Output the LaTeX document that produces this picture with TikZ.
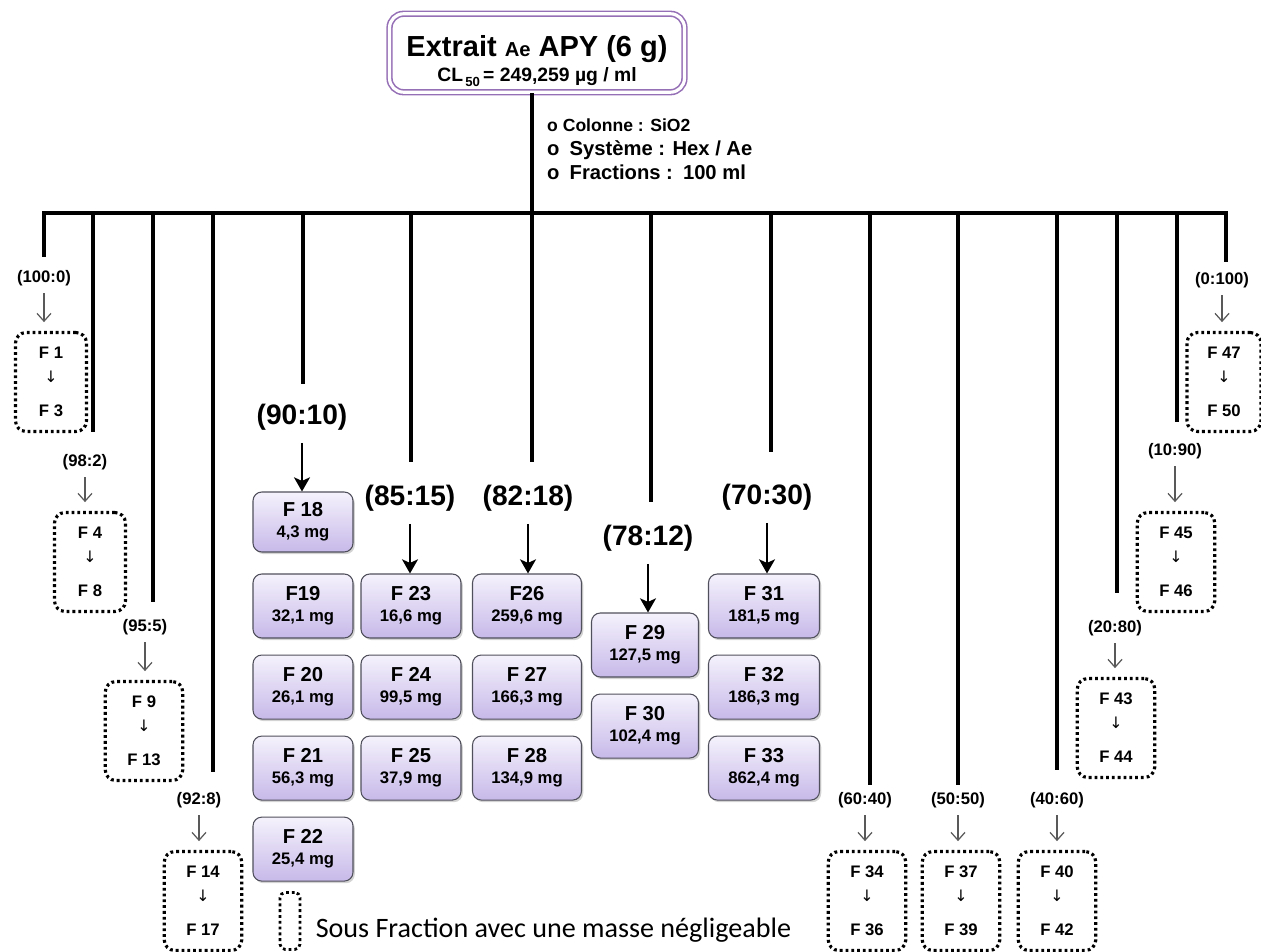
\documentclass[tikz,border=0pt]{standalone}
\usepackage{fontspec}
\setmainfont{Liberation Sans}
\newfontfamily\symfont{DejaVu Sans}
\newfontfamily\legendfont{Carlito}
\usepackage{tikz}
\usetikzlibrary{positioning, shadows, arrows.meta, calc}

\definecolor{fracTop}{RGB}{245,242,252}
\definecolor{fracBot}{RGB}{199,185,233}
\definecolor{fracLine}{RGB}{80,80,92}
\definecolor{extrLine}{RGB}{150,112,182}

\newcommand{\fleche}{{\symfont\mdseries\fontsize{9}{9}\selectfont ↓}}
\newcommand{\sousfrac}[2]{#1\\[2pt]\fleche\\[8pt]#2}
\newcommand{\fracmasse}[2]{#1\\[-1pt]{\bfseries\fontsize{9.5}{11}\selectfont #2 mg}}

\begin{document}
\begin{tikzpicture}[x=0.02cm, y=-0.02cm,
    branch/.style={line width=2.2pt},
    bigratio/.style={font=\bfseries\fontsize{16}{19}\selectfont, inner sep=1pt},
    smallratio/.style={font=\bfseries\fontsize{9.5}{11}\selectfont, inner sep=1pt},
    extrbox/.style={
        rectangle, rounded corners=8pt, draw=extrLine, line width=0.9pt,
        double=white, double distance=1.8pt, fill=white,
        minimum width=5.9cm, minimum height=1.55cm, align=center,
        font=\bfseries
    },
    fracbox/.style={
        rectangle, rounded corners=5pt, draw=fracLine, line width=0.6pt,
        top color=fracTop, bottom color=fracBot,
        minimum width=2cm, minimum height=1.28cm, align=center, inner sep=1pt,
        font=\bfseries\fontsize{11.5}{13}\selectfont,
        drop shadow={opacity=0.35, shadow xshift=1pt, shadow yshift=-1.2pt}
    },
    sousbox/.style={
        rectangle, rounded corners=6pt, draw, line width=1.8pt,
        dash pattern=on 1.6pt off 1.7pt,
        minimum width=1.55cm, minimum height=1.98cm, align=center, inner sep=0pt,
        font=\bfseries\fontsize{9.5}{11.5}\selectfont
    },
    bigarrow/.style={line width=1.6pt, -{Stealth[length=8pt, width=9pt, inset=2pt]}},
    smallarrow/.style={line width=0.7pt, draw=black!65, -{Straight Barb[length=4.5pt, width=8pt]},
        shorten <=3pt, shorten >=5pt}
]
\useasboundingbox (0,0) rectangle (1261,952);

% extrait de depart
\node[extrbox] (extrait) at (537,53) {
    {\fontsize{16.5}{19}\selectfont\rule{0pt}{21pt}Extrait {\fontsize{11.5}{14}\selectfont Ae} APY (6 g)}\\[2pt]
    {\fontsize{11}{13}\selectfont CL\raisebox{-0.5ex}{\fontsize{7.5}{8}\selectfont\,50}\,= 249,259 µg / ml}
};
\node[anchor=west, align=left, font=\bfseries\fontsize{11.5}{13.6}\selectfont] (methode) at (541,149) {
    {\fontsize{10}{13.6}\selectfont o Colonne : SiO2}\\
    o\enspace Système : Hex / Ae\\
    o\enspace Fractions :\enspace 100 ml
};

\coordinate (b0) at (532,213);
\draw[branch] (b0 |- extrait.south) -- (b0);

% barre de colonne
\coordinate (bl) at (44,213);
\coordinate (br) at (1226,213);
\coordinate (el) at (44,257);
\coordinate (er) at (1226,262);
\draw[branch] (el) -- (bl) -- (br) -- (er);

\foreach \n/\x/\y in {2/93/432, 3/153/602, 4/213/772, 5/303/384, 6/411/462,
    7/532/462, 8/651/502, 9/771/452, 10/870/785, 11/958/785, 12/1057/770,
    13/1117/593, 14/1177/422}{
    \coordinate (top\n) at (\x,213);
    \coordinate (end\n) at (\x,\y);
    \draw[branch] (top\n) -- (end\n);
}

% sous fractions negligeables
\node[smallratio] (r100) at (44,278) {(100:0)};
\node[sousbox, minimum width=1.42cm] (f1) at (51,382) {\sousfrac{F 1}{F 3}};
\node[smallratio] (r98) at (85,462) {(98:2)};
\node[sousbox, minimum width=1.42cm] (f4) at (90,562) {\sousfrac{F 4}{F 8}};
\node[smallratio] (r95) at (145,627) {(95:5)};
\node[sousbox] (f9) at (144,731) {\sousfrac{F 9}{F 13}};
\node[smallratio] (r92) at (199,800) {(92:8)};
\node[sousbox] (f14) at (203,901) {\sousfrac{F 14}{F 17}};
\node[smallratio] (r60) at (865,800) {(60:40)};
\node[sousbox] (f34) at (867,901) {\sousfrac{F 34}{F 36}};
\node[smallratio] (r50) at (958,800) {(50:50)};
\node[sousbox] (f37) at (961,901) {\sousfrac{F 37}{F 39}};
\node[smallratio] (r40) at (1057,800) {(40:60)};
\node[sousbox] (f40) at (1057,901) {\sousfrac{F 40}{F 42}};
\node[smallratio] (r20) at (1115,628) {(20:80)};
\node[sousbox] (f43) at (1116,728) {\sousfrac{F 43}{F 44}};
\node[smallratio] (r10) at (1175,451) {(10:90)};
\node[sousbox] (f45) at (1176,562) {\sousfrac{F 45}{F 46}};
\node[smallratio] (r0) at (1222,280) {(0:100)};
\node[sousbox, minimum width=1.48cm] (f47) at (1224,382) {\sousfrac{F 47}{F 50}};

\foreach \r/\f in {r100/f1, r98/f4, r95/f9, r92/f14, r60/f34, r50/f37,
    r40/f40, r20/f43, r10/f45, r0/f47}
    \draw[smallarrow] (\r.south) -- (\r.south |- \f.north);

% fractions retenues
\node[bigratio] (r90) at (302,417) {(90:10)};
\node[fracbox, minimum height=1.2cm] (f18) at (303,522) {\fracmasse{F 18}{4,3}};
\node[fracbox] (f19) at (303,606) {\fracmasse{F19}{32,1}};
\node[fracbox, below=0.32cm of f19] (f20) {\fracmasse{F 20}{26,1}};
\node[fracbox, below=0.32cm of f20] (f21) {\fracmasse{F 21}{56,3}};
\node[fracbox, below=0.32cm of f21] (f22) {\fracmasse{F 22}{25,4}};

\node[bigratio] (r85) at (410,498) {(85:15)};
\node[fracbox] (f23) at (411,606) {\fracmasse{F 23}{16,6}};
\node[fracbox, below=0.32cm of f23] (f24) {\fracmasse{F 24}{99,5}};
\node[fracbox, below=0.32cm of f24] (f25) {\fracmasse{F 25}{37,9}};

\node[bigratio] (r82) at (528,498) {(82:18)};
\node[fracbox, minimum width=2.18cm] (f26) at (527,606) {\fracmasse{F26}{259,6}};
\node[fracbox, minimum width=2.18cm, below=0.32cm of f26] (f27) {\fracmasse{F 27}{166,3}};
\node[fracbox, minimum width=2.18cm, below=0.32cm of f27] (f28) {\fracmasse{F 28}{134,9}};

\node[bigratio] (r78) at (648,538) {(78:12)};
\node[fracbox, minimum width=2.14cm] (f29) at (645,645) {\fracmasse{F 29}{127,5}};
\node[fracbox, minimum width=2.14cm, below=0.32cm of f29] (f30) {\fracmasse{F 30}{102,4}};

\node[bigratio] (r70) at (767,497) {(70:30)};
\node[fracbox, minimum width=2.22cm] (f31) at (764,606) {\fracmasse{F 31}{181,5}};
\node[fracbox, minimum width=2.22cm, below=0.32cm of f31] (f32) {\fracmasse{F 32}{186,3}};
\node[fracbox, minimum width=2.22cm, below=0.32cm of f32] (f33) {\fracmasse{F 33}{862,4}};

\foreach \r/\f in {r90/f18, r85/f23, r82/f26, r78/f29, r70/f31}
    \draw[bigarrow, shorten <=6pt] (\r.south) -- (\r.south |- \f.north);

% legende
\node[sousbox, minimum width=0.4cm, minimum height=1.14cm, rounded corners=3pt,
    line width=1.6pt] (legbox) at (290,921) {};
\node[right=0.28cm of legbox, font=\legendfont\fontsize{16}{19}\selectfont,
    inner sep=0pt, yshift=-5pt] (legtext) {Sous Fraction avec une masse négligeable};
\end{tikzpicture}
\end{document}
